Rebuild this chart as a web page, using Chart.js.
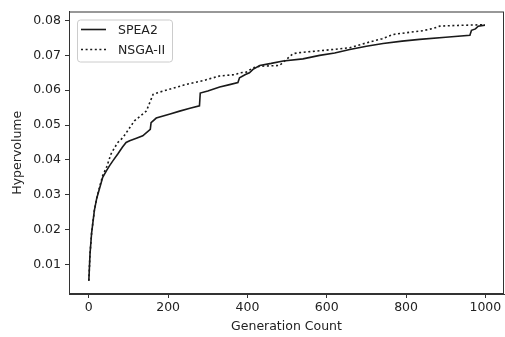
<!DOCTYPE html>
<html>
<head>
<meta charset="utf-8">
<script src="https://cdn.jsdelivr.net/npm/chart.js@4/dist/chart.umd.min.js"></script>
<style>
  html, body { margin: 0; padding: 0; background: #fff; }
  #wrap { width: 505px; height: 337px; }
</style>
</head>
<body>
<div id="wrap"><canvas id="hv-chart"></canvas></div>
<script>
// generation / hypervolume pairs
const speaGen = [0, 3, 7, 14, 20, 27, 35, 45, 52, 61, 73, 85, 94, 103, 120, 136, 155, 157, 170, 205, 229, 255, 279, 281, 300, 330, 355, 376, 380, 395, 405, 414, 431, 460, 490, 540, 582, 620, 658, 700, 742, 790, 834, 900, 961, 965, 975, 982, 999];
const speaHv = [0.0053, 0.013, 0.019, 0.0255, 0.029, 0.0318, 0.035, 0.037, 0.0383, 0.0398, 0.0417, 0.0437, 0.045, 0.0455, 0.0462, 0.0469, 0.0488, 0.0507, 0.052, 0.0532, 0.054, 0.0548, 0.0555, 0.0592, 0.0598, 0.0609, 0.0616, 0.0622, 0.0636, 0.0645, 0.065, 0.066, 0.0671, 0.0677, 0.0684, 0.069, 0.070, 0.0707, 0.0717, 0.0726, 0.0734, 0.0741, 0.0746, 0.0752, 0.0758, 0.0772, 0.0776, 0.0784, 0.0787];

const nsgaGen = [0, 3, 7, 14, 20, 27, 35, 45, 56, 65, 73, 86, 115, 145, 162, 174, 210, 246, 290, 330, 370, 380, 397, 414, 431, 481, 498, 515, 532, 570, 616, 658, 700, 740, 767, 800, 843, 870, 885, 930, 961, 999];
const nsgaHv = [0.0053, 0.013, 0.019, 0.0255, 0.029, 0.0322, 0.0355, 0.038, 0.0417, 0.0435, 0.045, 0.0464, 0.0512, 0.054, 0.0588, 0.0593, 0.0605, 0.0617, 0.0628, 0.0641, 0.0645, 0.065, 0.0652, 0.0664, 0.0669, 0.0671, 0.0688, 0.0705, 0.0708, 0.0712, 0.0717, 0.0722, 0.0736, 0.0748, 0.076, 0.0765, 0.0771, 0.0778, 0.0784, 0.0786, 0.0787, 0.0788];

const xTicks = [0, 200, 400, 600, 800, 1000];
const yTicks = [0.01, 0.02, 0.03, 0.04, 0.05, 0.06, 0.07, 0.08];
const seriesLabels = ['SPEA2', 'NSGA-II'];

const fontSize = 12.5;
const toPoints = (xs, ys) => xs.map((x, i) => ({ x: x, y: ys[i] }));

// box round the plot, like matplotlib spines
const frame = {
    id: 'frame',
    afterDraw(chart) {
        const { ctx, chartArea: a } = chart;
        ctx.save();
        ctx.strokeStyle = '#333';
        ctx.lineWidth = 1;
        ctx.strokeRect(a.left + 0.5, a.top + 0.5, a.right - a.left - 1, a.bottom - a.top - 1);
        ctx.restore();
    }
};

// legend inside the axes, upper left
const innerLegend = {
    id: 'innerLegend',
    afterDraw(chart) {
        const { ctx, chartArea: a } = chart;
        const x = a.left + 8, y = a.top + 8, w = 95, h = 42, r = 3;
        ctx.save();
        ctx.fillStyle = 'rgba(255,255,255,0.8)';
        ctx.strokeStyle = '#ccc';
        ctx.lineWidth = 1;
        ctx.beginPath();
        ctx.roundRect(x + 0.5, y + 0.5, w, h, r);
        ctx.fill();
        ctx.stroke();
        ctx.font = fontSize + 'px "DejaVu Sans"';
        ctx.textBaseline = 'middle';
        chart.data.datasets.forEach((ds, i) => {
            const ly = y + 10 + i * 20;
            ctx.strokeStyle = ds.borderColor;
            ctx.lineWidth = ds.borderWidth;
            ctx.setLineDash(ds.borderDash || []);
            ctx.beginPath();
            ctx.moveTo(x + 4, ly);
            ctx.lineTo(x + 29, ly);
            ctx.stroke();
            ctx.setLineDash([]);
            ctx.fillStyle = '#222';
            ctx.fillText(ds.label, x + 41, ly + 1);
        });
        ctx.restore();
    }
};

new Chart(document.getElementById('hv-chart'), {
    type: 'line',
    data: {
        datasets: [
            {
                label: seriesLabels[0],
                data: toPoints(speaGen, speaHv),
                borderColor: '#1a1a1a',
                borderWidth: 1.6,
                pointRadius: 0,
                tension: 0
            },
            {
                label: seriesLabels[1],
                data: toPoints(nsgaGen, nsgaHv),
                borderColor: '#1a1a1a',
                borderWidth: 1.6,
                borderDash: [2, 2.6],
                pointRadius: 0,
                tension: 0
            }
        ]
    },
    options: {
        responsive: true,
        maintainAspectRatio: false,
        animation: false,
        layout: { padding: { top: 10, right: 1, left: 0, bottom: 0 } },
        plugins: {
            legend: { display: false },
            tooltip: { enabled: false }
        },
        scales: {
            x: {
                type: 'linear',
                min: -50,
                max: 1047,
                afterBuildTicks: s => { s.ticks = xTicks.map(v => ({ value: v })); },
                afterFit: s => { s.height = 43; },
                grid: { drawOnChartArea: false, drawTicks: true, tickLength: 4, color: '#333' },
                border: { display: true, color: '#333' },
                ticks: {
                    color: '#222',
                    font: { family: 'DejaVu Sans', size: fontSize },
                    padding: 2,
                    maxRotation: 0,
                    callback: v => String(v)
                },
                title: {
                    display: true,
                    text: 'Generation Count',
                    color: '#222',
                    font: { family: 'DejaVu Sans', size: fontSize },
                    padding: { top: 0, bottom: 3 }
                }
            },
            y: {
                type: 'linear',
                min: 0.0015,
                max: 0.0826,
                afterBuildTicks: s => { s.ticks = yTicks.map(v => ({ value: v })); },
                afterFit: s => { s.width = 69; },
                grid: { drawOnChartArea: false, drawTicks: true, tickLength: 4, color: '#333' },
                border: { display: true, color: '#333' },
                ticks: {
                    color: '#222',
                    font: { family: 'DejaVu Sans', size: fontSize },
                    padding: 4,
                    callback: v => v.toFixed(2)
                },
                title: {
                    display: true,
                    text: 'Hypervolume',
                    color: '#222',
                    font: { family: 'DejaVu Sans', size: fontSize },
                    padding: { top: 10, bottom: 0 }
                }
            }
        }
    },
    plugins: [frame, innerLegend]
});
</script>
</body>
</html>
